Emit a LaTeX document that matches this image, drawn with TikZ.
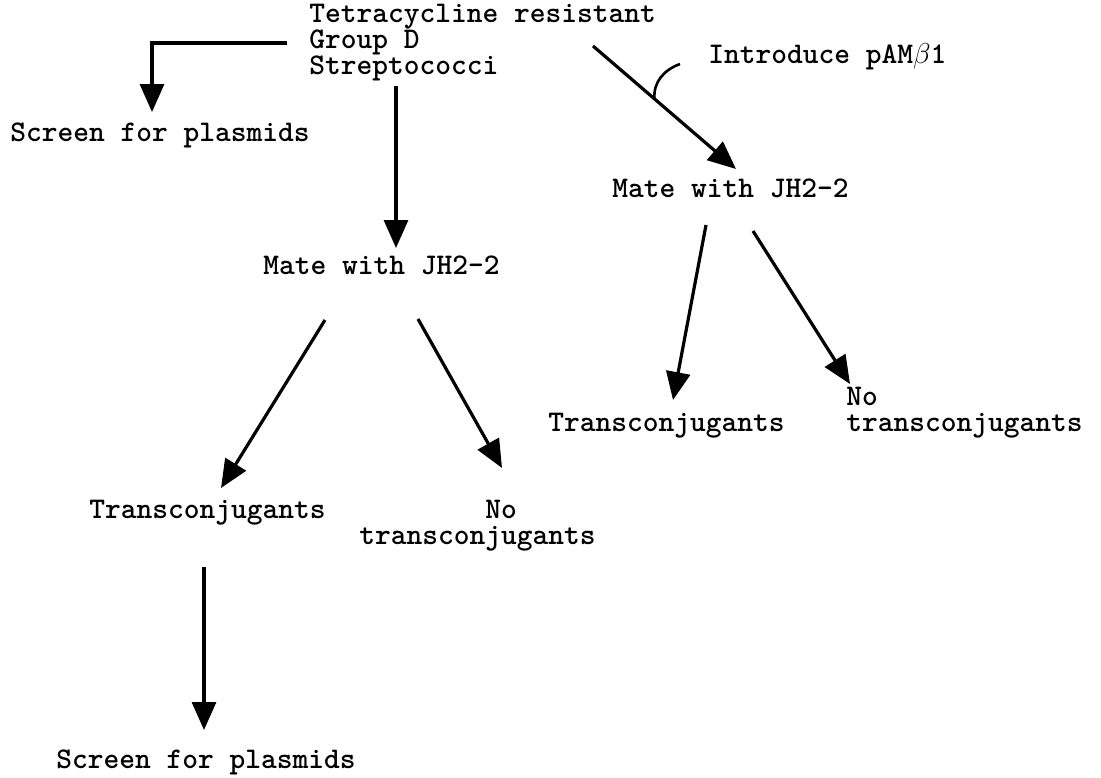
\documentclass[tikz,border=0pt]{standalone}
\usepackage{tikz}
\usetikzlibrary{arrows.meta}
\usetikzlibrary{calc}
\tikzset{
    common/.style={inner sep=0pt, font=\fontsize{15}{13}\fontseries{b}\selectfont\ttfamily},
    stage/.style={common, anchor=west},
    stack/.style={common, anchor=west, align=left},
    flow/.style={-{Triangle[length=14pt, width=12pt]}, line width=1.6pt},
    hook/.style={line width=1.3pt}
}

\begin{document}
\begin{tikzpicture}[x=0.5pt, y=-0.5pt]
    \useasboundingbox (0,0) rectangle (1101,777);

    \node[stack] (strep) at (309,43) {Tetracycline resistant\\Group D\\Streptococci};
    \node[stage] (screenA) at (10,135) {Screen for plasmids};
    \node[stage] (intro) at (708,57) {Introduce pAM$\beta$1};
    \node[stage] (mateL) at (263,265) {Mate with JH2-2};
    \node[stage] (mateR) at (612,188) {Mate with JH2-2};
    \node[stage] (transL) at (89,513) {Transconjugants};
    \node[stack] (noneL) at (359,526) {\hphantom{transcon}No\\transconjugants};
    \node[stage] (transR) at (548,426) {Transconjugants};
    \node[stack] (noneR) at (846,413) {No\\transconjugants};
    \node[stage] (screenB) at (56,762) {Screen for plasmids};

    \coordinate (strep-left) at (287,43);
    \coordinate (bend) at (152,43);
    \coordinate (screenA-top) at (152,112);
    \coordinate (strep-foot) at (396,86);
    \coordinate (mateL-top) at (396,248);
    \coordinate (strep-corner) at (593,46);
    \coordinate (mateR-top) at (736,169);
    \coordinate (hook-root) at ($(strep-corner)!0.43!(mateR-top)$);
    \coordinate (hook-tip) at (680,64);
    \coordinate (mateR-foot-l) at (706,225);
    \coordinate (mateR-foot-r) at (753,231);
    \coordinate (transR-top) at (673,400);
    \coordinate (noneR-top) at (850,384);
    \coordinate (mateL-foot-l) at (325,320);
    \coordinate (mateL-foot-r) at (418,319);
    \coordinate (transL-top) at (221,488);
    \coordinate (noneL-top) at (502,468);
    \coordinate (transL-foot) at (204,567);
    \coordinate (screenB-top) at (204,730);

    \draw[flow] (strep-left) -- (bend) -- (screenA-top);
    \draw[flow] (strep-foot) -- (mateL-top);
    \draw[flow] (strep-corner) -- (mateR-top);
    \draw[hook] (hook-root) to[out=95, in=200] (hook-tip);

    \path
      (mateR-foot-l) edge[flow] (transR-top)
      (mateR-foot-r) edge[flow] (noneR-top)
      (mateL-foot-l) edge[flow] (transL-top)
      (mateL-foot-r) edge[flow] (noneL-top)
      (transL-foot) edge[flow] (screenB-top);
\end{tikzpicture}
\end{document}
